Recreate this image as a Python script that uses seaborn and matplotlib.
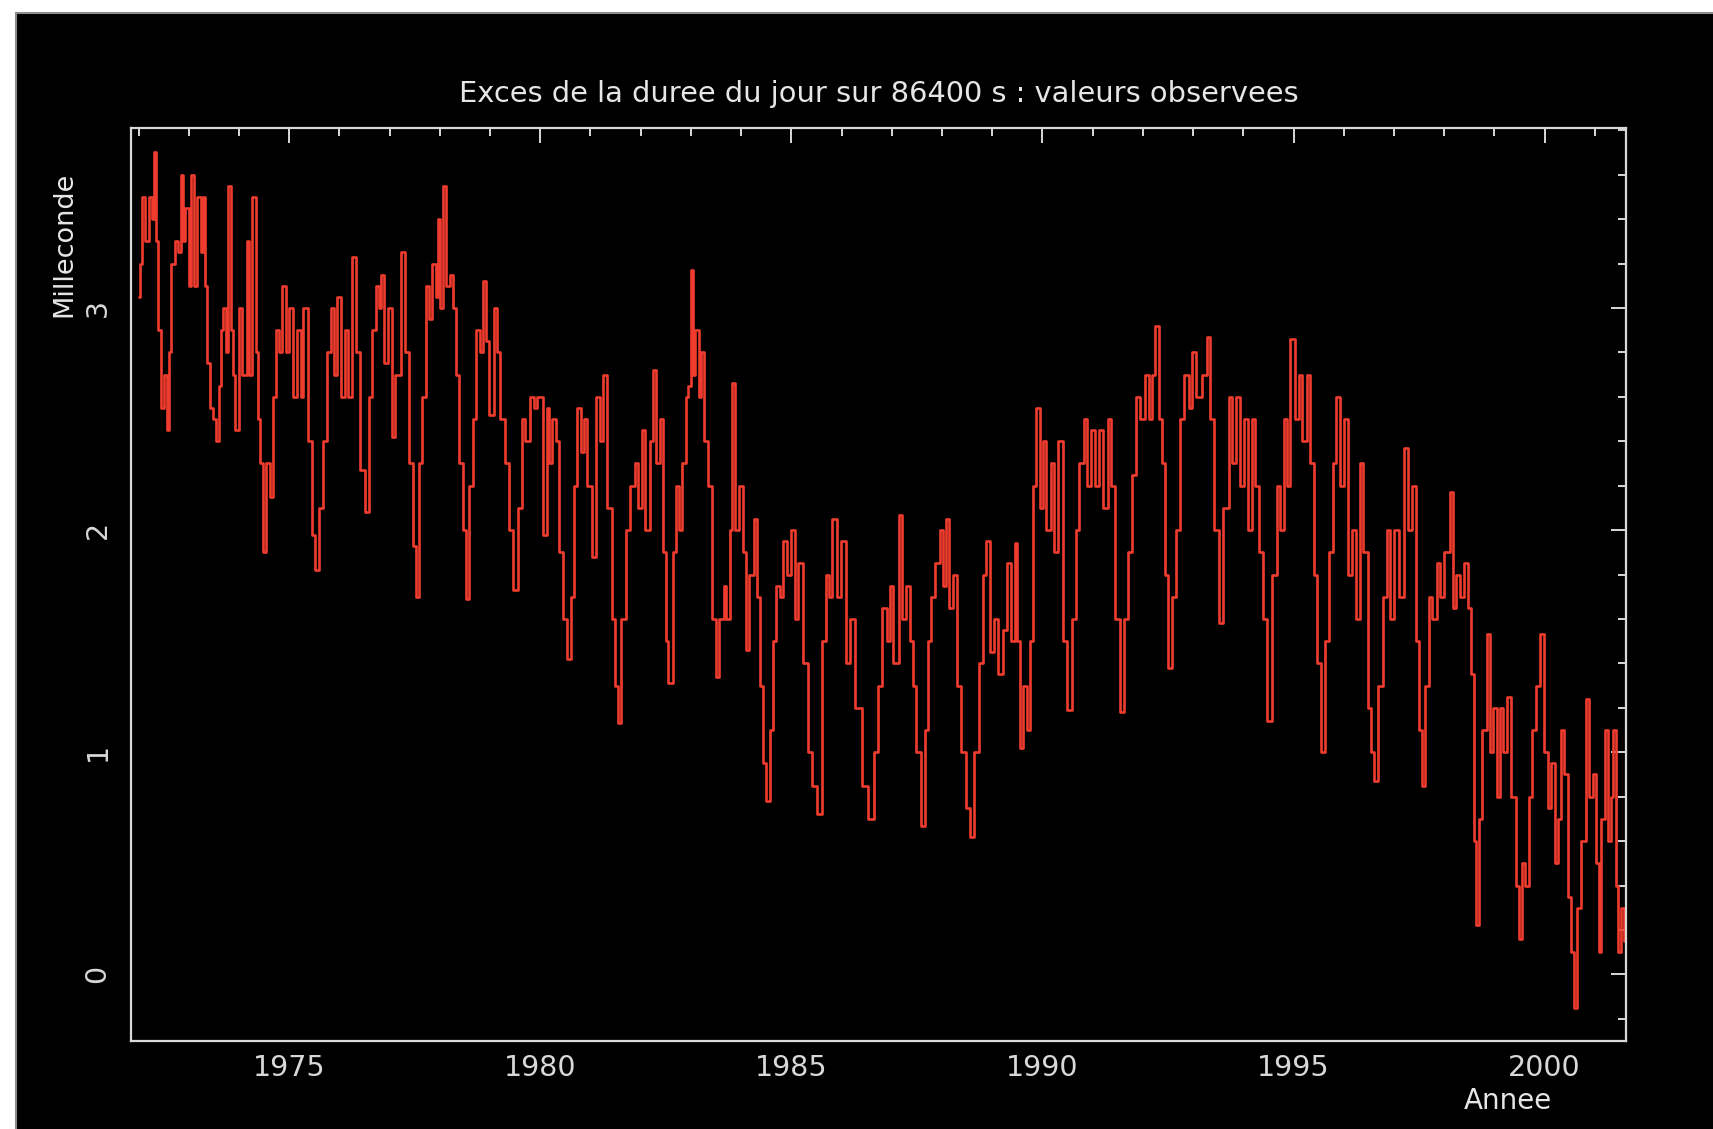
import matplotlib
matplotlib.use("Agg")
import matplotlib.pyplot as plt
import seaborn as sns
import pandas as pd
from matplotlib.patches import Rectangle
from matplotlib.ticker import MultipleLocator

# values (year, excess LOD in ms)
years = [
    1972.00, 1972.02, 1972.06, 1972.13, 1972.21, 1972.26, 1972.30, 1972.35, 1972.39, 1972.45,
    1972.50, 1972.56, 1972.61, 1972.65, 1972.72, 1972.78, 1972.85, 1972.89, 1972.93, 1973.00,
    1973.04, 1973.11, 1973.17, 1973.24, 1973.28, 1973.32, 1973.37, 1973.43, 1973.48, 1973.54,
    1973.61, 1973.65, 1973.69, 1973.74, 1973.78, 1973.85, 1973.89, 1973.93, 1974.00, 1974.06,
    1974.15, 1974.19, 1974.26, 1974.33, 1974.37, 1974.41, 1974.48, 1974.54, 1974.61, 1974.67,
    1974.74, 1974.80, 1974.85, 1974.93, 1975.00, 1975.07, 1975.15, 1975.24, 1975.28, 1975.37,
    1975.46, 1975.52, 1975.59, 1975.67, 1975.76, 1975.83, 1975.89, 1975.96, 1976.04, 1976.11,
    1976.17, 1976.26, 1976.33, 1976.41, 1976.50, 1976.59, 1976.65, 1976.72, 1976.78, 1976.83,
    1976.89, 1976.96, 1977.05, 1977.11, 1977.22, 1977.31, 1977.39, 1977.46, 1977.52, 1977.59,
    1977.65, 1977.72, 1977.79, 1977.85, 1977.92, 1977.96, 1978.00, 1978.07, 1978.13, 1978.20,
    1978.26, 1978.33, 1978.39, 1978.46, 1978.52, 1978.59, 1978.66, 1978.72, 1978.79, 1978.85,
    1978.92, 1978.98, 1979.07, 1979.13, 1979.20, 1979.29, 1979.37, 1979.46, 1979.55, 1979.63,
    1979.70, 1979.79, 1979.87, 1979.94, 1980.05, 1980.13, 1980.18, 1980.24, 1980.31, 1980.37,
    1980.46, 1980.53, 1980.61, 1980.68, 1980.74, 1980.81, 1980.87, 1980.94, 1981.03, 1981.11,
    1981.18, 1981.24, 1981.33, 1981.42, 1981.48, 1981.55, 1981.61, 1981.70, 1981.79, 1981.88,
    1981.94, 1982.03, 1982.09, 1982.18, 1982.25, 1982.31, 1982.38, 1982.44, 1982.51, 1982.55,
    1982.64, 1982.70, 1982.77, 1982.83, 1982.90, 1982.94, 1983.01, 1983.05, 1983.09, 1983.16,
    1983.20, 1983.27, 1983.33, 1983.42, 1983.50, 1983.56, 1983.65, 1983.70, 1983.77, 1983.81,
    1983.88, 1983.96, 1984.03, 1984.10, 1984.16, 1984.25, 1984.31, 1984.38, 1984.44, 1984.49,
    1984.57, 1984.64, 1984.70, 1984.77, 1984.83, 1984.92, 1984.99, 1985.07, 1985.14, 1985.23,
    1985.33, 1985.42, 1985.51, 1985.60, 1985.68, 1985.75, 1985.81, 1985.90, 1985.99, 1986.08,
    1986.16, 1986.27, 1986.40, 1986.53, 1986.64, 1986.73, 1986.81, 1986.90, 1986.97, 1987.03,
    1987.14, 1987.21, 1987.29, 1987.36, 1987.42, 1987.49, 1987.58, 1987.66, 1987.73, 1987.79,
    1987.86, 1987.95, 1988.01, 1988.08, 1988.14, 1988.21, 1988.29, 1988.38, 1988.47, 1988.56,
    1988.64, 1988.73, 1988.82, 1988.88, 1988.95, 1989.03, 1989.12, 1989.21, 1989.30, 1989.38,
    1989.45, 1989.49, 1989.56, 1989.62, 1989.69, 1989.75, 1989.82, 1989.88, 1989.95, 1990.01,
    1990.08, 1990.17, 1990.23, 1990.30, 1990.40, 1990.49, 1990.58, 1990.67, 1990.73, 1990.82,
    1990.88, 1990.97, 1991.04, 1991.12, 1991.21, 1991.30, 1991.36, 1991.45, 1991.54, 1991.62,
    1991.71, 1991.78, 1991.86, 1991.95, 1992.04, 1992.12, 1992.19, 1992.25, 1992.32, 1992.38,
    1992.45, 1992.49, 1992.58, 1992.65, 1992.73, 1992.82, 1992.91, 1992.97, 1993.06, 1993.17,
    1993.28, 1993.34, 1993.41, 1993.52, 1993.60, 1993.71, 1993.78, 1993.86, 1993.93, 1994.02,
    1994.10, 1994.17, 1994.23, 1994.32, 1994.39, 1994.47, 1994.58, 1994.67, 1994.73, 1994.80,
    1994.86, 1994.93, 1995.02, 1995.10, 1995.17, 1995.26, 1995.32, 1995.41, 1995.47, 1995.54,
    1995.63, 1995.71, 1995.78, 1995.84, 1995.93, 1996.00, 1996.08, 1996.17, 1996.24, 1996.32,
    1996.39, 1996.48, 1996.54, 1996.61, 1996.69, 1996.78, 1996.87, 1996.93, 1997.00, 1997.09,
    1997.20, 1997.28, 1997.35, 1997.44, 1997.50, 1997.55, 1997.61, 1997.70, 1997.76, 1997.85,
    1997.92, 1998.00, 1998.11, 1998.18, 1998.24, 1998.31, 1998.39, 1998.48, 1998.54, 1998.59,
    1998.63, 1998.70, 1998.76, 1998.85, 1998.92, 1998.98, 1999.05, 1999.11, 1999.18, 1999.26,
    1999.33, 1999.42, 1999.48, 1999.55, 1999.61, 1999.68, 1999.74, 1999.83, 1999.90, 1999.98,
    2000.07, 2000.13, 2000.20, 2000.26, 2000.33, 2000.39, 2000.46, 2000.52, 2000.59, 2000.65,
    2000.72, 2000.83, 2000.89, 2000.96, 2001.02, 2001.09, 2001.13, 2001.20, 2001.26, 2001.33,
    2001.37, 2001.42, 2001.46, 2001.52, 2001.59,
]
lod_ms = [
    3.05, 3.20, 3.50, 3.30, 3.50, 3.40, 3.70, 3.30, 2.90, 2.55,
    2.70, 2.45, 2.80, 3.20, 3.30, 3.25, 3.60, 3.30, 3.45, 3.10,
    3.60, 3.10, 3.50, 3.25, 3.50, 3.10, 2.75, 2.55, 2.50, 2.40,
    2.65, 2.90, 3.00, 2.80, 3.55, 2.90, 2.70, 2.45, 3.00, 2.70,
    3.30, 2.70, 3.50, 2.80, 2.50, 2.30, 1.90, 2.30, 2.15, 2.60,
    2.90, 2.80, 3.10, 2.80, 3.00, 2.60, 2.90, 2.60, 3.00, 2.40,
    1.98, 1.82, 2.10, 2.40, 2.80, 3.00, 2.70, 3.05, 2.60, 2.90,
    2.60, 3.23, 2.80, 2.27, 2.08, 2.60, 2.90, 3.10, 3.00, 3.15,
    2.75, 3.00, 2.42, 2.70, 3.25, 2.80, 2.30, 1.93, 1.70, 2.30,
    2.60, 3.10, 2.95, 3.20, 3.05, 3.40, 3.00, 3.55, 3.10, 3.15,
    3.00, 2.70, 2.30, 2.00, 1.69, 2.20, 2.50, 2.90, 2.80, 3.12,
    2.85, 2.52, 3.00, 2.80, 2.50, 2.30, 2.00, 1.73, 2.10, 2.50,
    2.40, 2.60, 2.55, 2.60, 1.98, 2.55, 2.30, 2.50, 2.40, 1.90,
    1.60, 1.42, 1.70, 2.20, 2.55, 2.35, 2.50, 2.20, 1.88, 2.60,
    2.40, 2.70, 2.10, 1.60, 1.30, 1.13, 1.60, 2.00, 2.20, 2.30,
    2.10, 2.45, 2.00, 2.40, 2.72, 2.30, 2.50, 1.90, 1.50, 1.31,
    1.90, 2.20, 2.00, 2.30, 2.60, 2.65, 3.17, 2.70, 2.90, 2.60,
    2.80, 2.40, 2.20, 1.60, 1.34, 1.60, 1.75, 1.60, 2.00, 2.66,
    2.00, 2.20, 1.90, 1.46, 1.80, 2.05, 1.70, 1.30, 0.95, 0.78,
    1.10, 1.50, 1.75, 1.70, 1.95, 1.80, 2.00, 1.60, 1.85, 1.40,
    1.00, 0.85, 0.72, 1.50, 1.80, 1.70, 2.05, 1.70, 1.95, 1.40,
    1.60, 1.20, 0.85, 0.70, 1.00, 1.30, 1.65, 1.50, 1.75, 1.40,
    2.07, 1.60, 1.75, 1.50, 1.30, 1.00, 0.67, 1.10, 1.50, 1.70,
    1.85, 2.00, 1.75, 2.05, 1.65, 1.80, 1.30, 1.00, 0.75, 0.62,
    1.00, 1.40, 1.80, 1.95, 1.45, 1.60, 1.35, 1.55, 1.85, 1.50,
    1.94, 1.50, 1.02, 1.30, 1.10, 1.50, 2.20, 2.55, 2.10, 2.40,
    2.00, 2.30, 1.90, 2.40, 1.50, 1.19, 1.60, 2.00, 2.30, 2.50,
    2.20, 2.45, 2.20, 2.45, 2.10, 2.50, 2.20, 1.60, 1.18, 1.60,
    1.90, 2.25, 2.60, 2.50, 2.70, 2.50, 2.70, 2.92, 2.50, 2.30,
    1.80, 1.38, 1.70, 2.00, 2.50, 2.70, 2.55, 2.80, 2.60, 2.70,
    2.87, 2.50, 2.00, 1.58, 2.10, 2.60, 2.30, 2.60, 2.20, 2.50,
    2.00, 2.50, 2.20, 1.90, 1.60, 1.14, 1.80, 2.20, 2.00, 2.50,
    2.20, 2.86, 2.50, 2.70, 2.40, 2.70, 2.30, 1.80, 1.40, 1.00,
    1.50, 1.90, 2.30, 2.60, 2.20, 2.50, 1.80, 2.00, 1.60, 2.30,
    1.90, 1.20, 1.00, 0.87, 1.30, 1.70, 2.00, 1.60, 2.00, 1.70,
    2.37, 2.00, 2.20, 1.50, 1.10, 0.85, 1.30, 1.70, 1.60, 1.85,
    1.70, 1.90, 2.17, 1.65, 1.80, 1.70, 1.85, 1.65, 1.35, 0.60,
    0.22, 0.70, 1.10, 1.53, 1.00, 1.20, 0.80, 1.20, 1.00, 1.25,
    0.80, 0.40, 0.16, 0.50, 0.40, 0.80, 1.10, 1.30, 1.53, 1.00,
    0.75, 0.95, 0.50, 0.70, 1.10, 0.90, 0.35, 0.10, -0.15, 0.30,
    0.60, 1.24, 0.80, 0.90, 0.50, 0.10, 0.70, 1.10, 0.60, 0.80,
    1.10, 0.40, 0.10, 0.30, 0.15,
]
x_ticks = [1975, 1980, 1985, 1990, 1995, 2000]
y_ticks = [0, 1, 2, 3]

sns.set_theme(style="dark", rc={
    "axes.facecolor": "black",
    "figure.facecolor": "white",
    "axes.edgecolor": "#d8d8d8",
    "axes.linewidth": 1.6,
    "text.color": "#e6e6e6",
    "xtick.color": "#d8d8d8",
    "ytick.color": "#d8d8d8",
})
plt.rcParams["font.family"] = ["DejaVu Sans"]

W, H = 1713, 1129
fig = plt.figure(figsize=(W / 100, H / 100), dpi=100)
# black drawing area with a thin grey edge, white strip on top and left
fig.add_artist(Rectangle((16 / W, -0.05), 1.1, 1.05 - 13 / H, transform=fig.transFigure,
                         facecolor="black", edgecolor="#8c8c8c", lw=1.5, zorder=-1))
ax = fig.add_axes([131 / W, 88 / H, 1495 / W, 913 / H])
ax.set_facecolor("black")

df = pd.DataFrame({"annee": years, "ms": lod_ms})
sns.lineplot(data=df, x="annee", y="ms", ax=ax, color="#f03c2e", lw=1.9,
             drawstyle="steps-post", estimator=None)

ax.set_xlim(1971.85, 2001.62)
ax.set_ylim(-0.30, 3.81)
ax.set_xticks(x_ticks)
ax.set_yticks(y_ticks)
ax.xaxis.set_minor_locator(MultipleLocator(1))
ax.yaxis.set_minor_locator(MultipleLocator(0.2))
ax.tick_params(which="both", direction="in", top=True, right=True, width=1.4, labelsize=20.5)
ax.tick_params(which="major", length=11)
ax.tick_params(which="minor", length=6)
ax.tick_params(axis="x", pad=9)
ax.tick_params(axis="y", pad=14, labelrotation=90)
for lab in ax.get_yticklabels():
    lab.set_va("center")
for sp in ax.spines.values():
    sp.set_visible(True)
    sp.set_color("#d8d8d8")
ax.grid(False)

ax.set_xlabel("Annee", fontsize=20, color="#e6e6e6")
ax.xaxis.set_label_coords(0.921, -0.05)
ax.set_ylabel("Milleconde", fontsize=19.5, color="#e6e6e6")
ax.yaxis.set_label_coords(-0.036, 0.873)

fig.text(878.5 / W, 1 - 94 / H, "Exces de la duree du jour sur 86400 s : valeurs observees",
         ha="center", va="center", fontsize=20.8, color="#e6e6e6")

fig.savefig("out.png", dpi=100, facecolor="white")
